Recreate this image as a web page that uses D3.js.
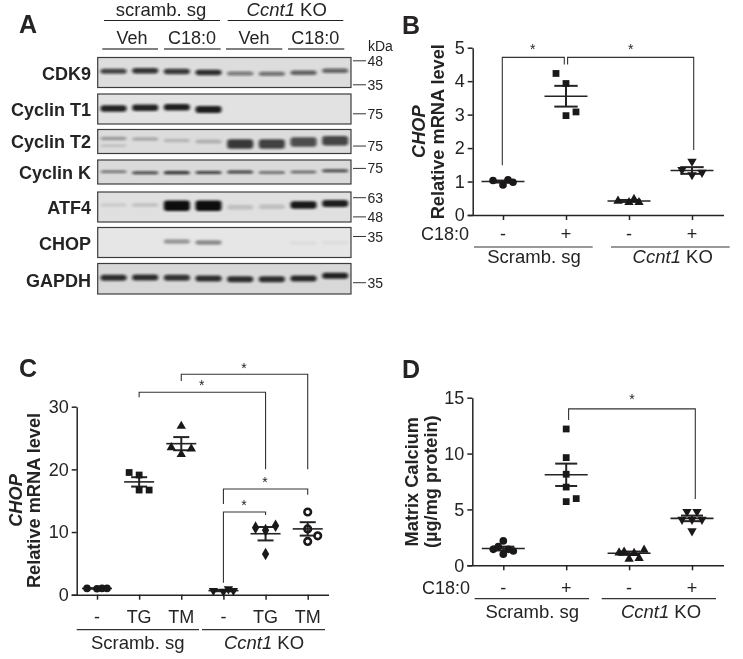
<!DOCTYPE html>
<html><head><meta charset="utf-8">
<script src="https://cdn.jsdelivr.net/npm/d3@7"></script>
<style>
html,body{margin:0;padding:0;background:#fff}
svg{display:block}
text{font-family:"Liberation Sans",Arial,sans-serif;fill:#262324}
</style></head><body>
<svg id="fig" width="743" height="659"></svg>
<script>
// ---------- Panel A: western blot readings ----------
const lanes = ["s1","s2","s3","s4","k1","k2","k3","k4"];
const blotNames = ["CDK9","Cyclin T1","Cyclin T2","Cyclin K","ATF4","CHOP","GAPDH"];
const cdk9Signal    = [.75,.82,.8,.85,.5,.55,.62,.6];
const cdk9Rf        = [.46,.44,.47,.5,.53,.54,.51,.44];
const t1Signal      = [.9,.9,.92,.92,0,0,0,0];
const t1Rf          = [.48,.46,.44,.52,.5,.5,.5,.5];
const t2SignalUpper = [.3,.24,.18,.2,0,0,0,0];
const t2RfUpper     = [.38,.4,.46,.5,.5,.5,.5,.5];
const t2SignalLower = [.14,0,0,0,.8,.76,.7,.74];
const t2RfLower     = [.68,.6,.6,.6,.6,.6,.52,.47];
const kSignal       = [.55,.72,.82,.76,.76,.62,.62,.72];
const kRf           = [.49,.53,.53,.52,.5,.52,.5,.45];
const atf4Signal    = [.1,.15,1,1,.14,.14,.95,.92];
const atf4Rf        = [.43,.43,.46,.46,.51,.49,.43,.38];
const chopSignal    = [0,0,.34,.4,0,0,.04,.04];
const chopRf        = [.5,.5,.47,.5,.5,.5,.52,.5];
const gapdhSignal   = [.85,.85,.82,.85,.85,.85,.88,.9];
const gapdhRf       = [.47,.46,.47,.49,.52,.52,.49,.4];
const markerKDa = [[48,35],[75],[75],[75],[63,48],[35],[35]];
const markerRf  = [[.11,.91],[.66],[.69],[.35],[.19,.83],[.3],[.63]];

// ---------- Panel B ----------
const bCats = ["-","+","-","+"];
const bTicks = [0,1,2,3,4,5];
const bPoints = [[1.03,.9,1.05,.98],[4.23,3.93,3.08,2.97],[.42,.38,.47,.38],[1.6,1.35,1.2,1.27]];
const bJitter = [[-10,0,5,10],[-10,0,10,0],[-11,0,5,10],[0,-10,0,10]];
const bMeans = [1,3.55,.42,1.33];
const bSem = [.03,.31,.03,.1];

// ---------- Panel C ----------
const cCats = ["-","TG","TM","-","TG","TM"];
const cTicks = [0,10,20,30];
const cPoints = [[1,.95,1,1],[19.5,19.1,16.7,16.7],[26.9,23.5,23.3,22.4],[.65,.5,.9,.65],[10.7,10.3,11,6.5],[13.2,10.5,9.4,8.5]];
const cJitter = [[-10,0,5,10],[-10,0,0,10],[0,-10,10,0],[-10,0,5,10],[-10,0,10,0],[0,0,10,0]];
const cMeans = [1,18,24.1,.65,9.73,10.5];
const cSem = [.03,.75,1.05,.1,1.07,1.07];

// ---------- Panel D ----------
const dCats = ["-","+","-","+"];
const dTicks = [0,5,10,15];
const dPoints = [[2.18,1.43,1.67,1.43,1.28,1],[12.2,9.64,8.15,7,5.97,5.7],[1.13,1.2,1.08,1.37,.57,.63],[4.8,4.8,4.1,4.1,4.1,3.07]];
const dJitter = [[0,-10,-5,5,10,0],[0,0,0,0,10,0],[-10,-5,5,15,0,10],[-5,5,-10,0,10,0]];
const dMeans = [1.5,8.1,1.08,4.2];
const dSem = [.17,1,.15,.25];

// ---------- drawing ----------
const svg = d3.select("#fig");
const root = svg.append("g").attr("opacity",.999);
const INK = "#262324";
const defs = svg.append("defs");
defs.append("filter").attr("id","band").attr("x","-20%").attr("y","-80%").attr("width","140%").attr("height","260%")
  .append("feGaussianBlur").attr("stdDeviation","1.5 0.9");

function label(g,x,y,t,o={}){
  return g.append("text").attr("x",x).attr("y",y)
    .attr("font-size",o.size||18).attr("text-anchor",o.anchor||"middle")
    .attr("font-weight",o.weight||"normal").text(t);
}
function rule(g,x1,x2,y,col=INK,w=1.2){
  g.append("line").attr("x1",x1).attr("x2",x2).attr("y1",y).attr("y2",y).attr("stroke",col).attr("stroke-width",w);
}

// panel letters
[["A",19,33],["B",402,34],["C",19,377],["D",402,378]].forEach(([t,x,y])=>
  label(root,x,y,t,{size:25,weight:"bold",anchor:"start"}));

// Panel A
const A = root.append("g");
const laneX = d3.scaleBand().domain(lanes).range([97.7,351]);
const blotBoxes = [[57.5,87.5],[94,124],[129.5,153.5],[160,184],[192,222],[227.5,257.5],[263.5,294]];
const blotBg = ["#dddddd","#e2e2e2","#dcdcdc","#dadada","#e0e0e0","#e6e6e6","#d8d8d8"];
const blotLabelY = [79.5,116,148,179,214,250,287];
const layers = [
  [{s:cdk9Signal,r:cdk9Rf,t:[5,5.5,5.5,5.5,4,4,4.5,4.5]}],
  [{s:t1Signal,r:t1Rf,t:[6.5,6.5,6.5,7,6,6,6,6]}],
  [{s:t2SignalUpper,r:t2RfUpper,t:[3.5,3.5,3.5,4,3,3,3,3]},{s:t2SignalLower,r:t2RfLower,t:[2.5,3,3,3,9.5,9.5,9.5,9.5]}],
  [{s:kSignal,r:kRf,t:[2.4,3,3.2,3,3,2.6,2.6,3]}],
  [{s:atf4Signal,r:atf4Rf,t:[3.5,3.5,10.5,10.5,5,5,7.5,7]}],
  [{s:chopSignal,r:chopRf,t:[4,4,4.5,4.5,4,4,4,4]}],
  [{s:gapdhSignal,r:gapdhRf,t:[6,6,6,6,6,6,6,6]}]
];
blotNames.forEach((name,i)=>{
  const [t,b] = blotBoxes[i];
  const yRf = d3.scaleLinear().domain([0,1]).range([t,b]);
  A.append("rect").attr("x",97.7).attr("y",t).attr("width",253.3).attr("height",b-t)
    .attr("fill",blotBg[i]).attr("stroke","#3c3c3c").attr("stroke-width",1.2);
  const bandG = A.append("g").attr("filter","url(#band)");
  layers[i].forEach(layer=>{
    bandG.selectAll(null).data(lanes.map((l,j)=>({l,s:layer.s[j],r:layer.r[j],t:layer.t[j]})).filter(d=>d.s>0))
      .join("rect")
      .attr("x",d=>laneX(d.l)+2.8).attr("width",laneX.bandwidth()-5.6)
      .attr("y",d=>yRf(d.r)-d.t/2).attr("height",d=>d.t)
      .attr("rx",3).attr("fill","#101010").attr("fill-opacity",d=>d.s);
  });
  label(A,91,blotLabelY[i],name,{anchor:"end",weight:"bold",size:18});
  markerKDa[i].forEach((k,j)=>{
    const y = yRf(markerRf[i][j]);
    A.append("line").attr("x1",353).attr("x2",366).attr("y1",y).attr("y2",y).attr("stroke","#333").attr("stroke-width",1);
    label(A,367.5,y+5,k,{anchor:"start",size:14});
  });
});
label(A,368,51,"kDa",{anchor:"start",size:14});
label(A,161,16,"scramb. sg",{size:18.5});
{
  const t = label(A,286.7,16,"",{size:18.5});
  t.append("tspan").attr("font-style","italic").text("Ccnt1");
  t.append("tspan").text(" KO");
}
rule(A,104,220,20.5,"#222",1.2); rule(A,227.7,343.3,20.5,"#222",1.2);
[["Veh",132,102.3,158],["C18:0",192,164,220.7],["Veh",254,226,282.3],["C18:0",315.3,288,344.3]].forEach(([t,c,a,b])=>{
  label(A,c,44,t); rule(A,a,b,49,"#808080",2);
});

// scatter helper
const sym = {
  circle:d3.symbol().type(d3.symbolCircle).size(46)(),
  open:d3.symbol().type(d3.symbolCircle).size(34)(),
  square:d3.symbol().type(d3.symbolSquare).size(46)(),
  up:d3.symbol().type(d3.symbolTriangle).size(38)(),
  down:d3.symbol().type(d3.symbolTriangle).size(38)(),
  diamond:d3.symbol().type(d3.symbolDiamond).size(46)()
};
function scatter(cfg){
  const g = root.append("g");
  const x = d3.scalePoint().domain(d3.range(cfg.cats.length)).range(cfg.xr);
  const y = d3.scaleLinear().domain(cfg.dom).range(cfg.yr);
  const yAxis = d3.axisLeft(y).tickValues(cfg.ticks).tickFormat(d3.format("d")).tickSize(5).tickPadding(3).tickSizeOuter(0);
  const ya = g.append("g").attr("transform",`translate(${cfg.axisX},0)`).call(yAxis);
  ya.selectAll("text").attr("font-size",18).attr("font-family",null);
  const xAxis = d3.axisBottom(x).tickFormat("").tickSize(5).tickSizeOuter(0);
  const xa = g.append("g").attr("transform",`translate(0,${cfg.yr[0]})`).call(xAxis);
  xa.select(".domain").attr("d",`M${cfg.axisX-5},0.5H${cfg.xEnd}`);
  g.selectAll(".domain,.tick line").attr("stroke",INK).attr("stroke-width",1.5);
  cfg.means.forEach((m,i)=>{
    const c = x(i), sd = cfg.sem[i];
    const ln = (x1,x2,y1,y2,w)=>g.append("line").attr("x1",x1).attr("x2",x2).attr("y1",y1).attr("y2",y2).attr("stroke",INK).attr("stroke-width",w);
    ln(c-cfg.meanW,c+cfg.meanW,y(m),y(m),1.6);
    ln(c,c,y(m-sd),y(m+sd),2);
    ln(c-cfg.capW,c+cfg.capW,y(m+sd),y(m+sd),2);
    ln(c-cfg.capW,c+cfg.capW,y(m-sd),y(m-sd),2);
    const shape = cfg.shapes[i];
    g.selectAll(null).data(cfg.points[i].map((v,j)=>({v,dx:cfg.jitter[i][j]}))).join("path")
      .attr("d",sym[shape])
      .attr("transform",d=>`translate(${c+d.dx},${y(d.v)})${shape==="down"?" rotate(180)":""}`)
      .attr("fill",shape==="open"?"none":"#1b1819").attr("stroke",shape==="open"?"#1b1819":"none").attr("stroke-width",2.6);
  });
  cfg.brackets.forEach(b=>{
    const x0=x(b.a)+(b.da||0), x1=x(b.b)+(b.db||0);
    g.append("path").attr("fill","none").attr("stroke","#333").attr("stroke-width",1.1)
      .attr("d",d3.line()([[x0,y(b.v0)],[x0,y(b.top)],[x1,y(b.top)],[x1,y(b.v1)]]));
    label(g,b.sx,b.sy,"*",{size:14});
  });
  cfg.cats.forEach((c,i)=>label(g,x(i),cfg.catY,c,{size:18}));
  if(cfg.rowTitle) label(g,cfg.rowTitle[1],cfg.catY,cfg.rowTitle[0],{anchor:"end",size:18});
  cfg.groups.forEach((gr,i)=>{
    rule(g,gr[0],gr[1],cfg.ruleY,"#333",1.2);
    const t = label(g,gr[2],cfg.groupY,"",{size:18.5});
    if(i===0) t.text("Scramb. sg");
    else { t.append("tspan").attr("font-style","italic").text("Ccnt1"); t.append("tspan").text(" KO"); }
  });
  cfg.title.forEach(tt=>{
    const t = g.append("text").attr("transform",`translate(${tt.x},${cfg.titleY}) rotate(-90)`)
      .attr("text-anchor","middle").attr("font-size",18.2).attr("font-weight","bold");
    if(tt.italic) t.attr("font-style","italic");
    t.text(tt.t);
  });
}

scatter({cats:bCats,ticks:bTicks,dom:[0,5],yr:[215,47.7],xr:[503,692],axisX:472.7,xEnd:724,
  points:bPoints,jitter:bJitter,means:bMeans,sem:bSem,shapes:["circle","square","up","down"],meanW:21.5,capW:11.7,
  brackets:[{a:0,b:1,da:-.7,db:-1.7,v0:1.49,v1:4.5,top:4.71,sx:532.7,sy:54},{a:1,b:3,da:1.6,db:1.7,v0:4.5,v1:1.94,top:4.71,sx:630.7,sy:54}],
  catY:240,rowTitle:["C18:0",469],ruleY:247,groupY:263,groups:[[474,592.7,534],[611,729.7,672.7]],
  title:[{t:"CHOP",x:425,italic:true},{t:"Relative mRNA level",x:444}],titleY:131.7});

scatter({cats:cCats,ticks:cTicks,dom:[0,30],yr:[594.7,406.7],xr:[97,307.7],axisX:76.7,xEnd:329,
  points:cPoints,jitter:cJitter,means:cMeans,sem:cSem,shapes:["circle","square","up","down","diamond","open"],meanW:15,capW:8,
  brackets:[{a:2,b:5,v0:34.1,v1:20,top:35.17,sx:244,sy:373},{a:1,b:4,v0:31.5,v1:20,top:32.3,sx:201.7,sy:390},
    {a:3,b:5,v0:14.47,v1:15.96,top:16.87,sx:265,sy:487},{a:3,b:4,v0:1.9,v1:12.7,top:13.2,sx:244,sy:510}],
  catY:623,ruleY:629.7,groupY:649,groups:[[76.7,199,137.7],[202,325,264]],
  title:[{t:"CHOP",x:21.7,italic:true},{t:"Relative mRNA level",x:40}],titleY:500.5});

scatter({cats:dCats,ticks:dTicks,dom:[0,15],yr:[565.3,397.7],xr:[503.3,692],axisX:472.3,xEnd:724,
  points:dPoints,jitter:dJitter,means:dMeans,sem:dSem,shapes:["circle","square","up","down"],meanW:21.5,capW:11,
  brackets:[{a:1,b:3,da:2.4,db:3.3,v0:13,v1:5.93,top:14,sx:632,sy:404}],
  catY:594,rowTitle:["C18:0",470],ruleY:598.7,groupY:618,groups:[[474.7,589,532.3],[601.7,716,661]],
  title:[{t:"Matrix Calcium",x:418.3},{t:"(µg/mg protein)",x:436.7}],titleY:481.7});
</script>
</body></html>
